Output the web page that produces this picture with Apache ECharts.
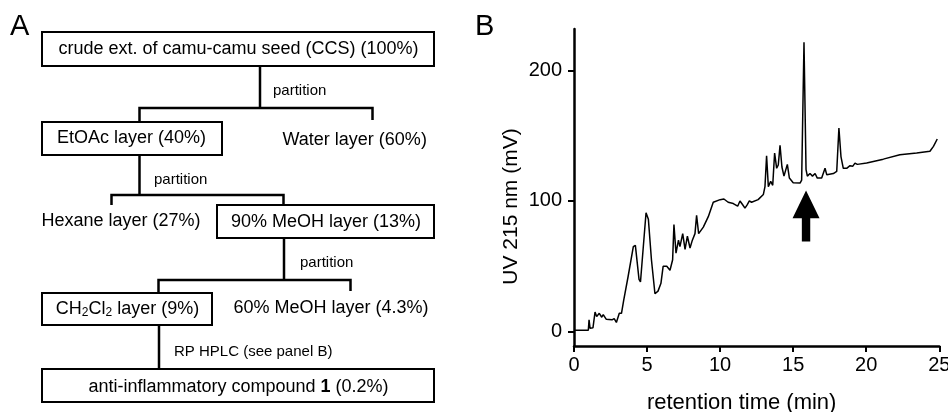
<!DOCTYPE html>
<html><head><meta charset="utf-8">
<script src="https://cdn.jsdelivr.net/npm/echarts@6/dist/echarts.min.js"></script>
<style>html,body{margin:0;padding:0;background:#fff}#c{width:948px;height:412px}</style>
</head><body><div id="c"></div>
<script>
// Panel B: HPLC chromatogram (retention time in min, UV 215 nm in mV)
const timeMin = [0,0.98,1.03,1.1,1.3,1.44,1.55,1.73,1.9,2.0,2.2,2.6,2.75,2.9,3.1,3.25,3.4,3.7,4.06,4.2,4.45,4.55,4.93,5.09,5.3,5.54,5.75,5.95,6.1,6.35,6.57,6.75,6.84,6.98,7.15,7.25,7.44,7.6,7.76,7.94,8.1,8.28,8.39,8.53,8.85,9.19,9.53,10.0,10.26,10.55,10.9,11.2,11.36,11.52,11.7,11.85,12.0,12.15,12.6,12.96,13.07,13.18,13.3,13.46,13.6,13.73,13.87,13.98,14.1,14.23,14.37,14.6,14.74,15.0,15.47,15.58,15.74,15.88,15.97,16.15,16.32,16.5,16.65,16.95,17.18,17.3,17.75,17.98,18.13,18.27,18.43,18.66,18.89,19.07,19.23,19.39,20.03,21.17,22.3,23.45,24.36,24.6,24.86];
const uv215 = [1,1,9,2.5,3,15,11.5,14,11,13,9.5,9,10,7,14,14,24,42,65,66,40,38,91,86,55,29,31,37,50,50,47,55,82,60,70,65,75,63,73,64,70,75,89,75,80,88,99,101,101.5,99,98,96,100,97.5,94.5,97,100,99,101,105,111,134.6,111,115,112,136.7,125,127.5,142.5,126,119,128,117.5,114,113.7,116,221.5,124,119,121,119,121,117.5,117.5,125,120,121,122.6,155.8,134,125,125,127,126.5,129,128,129,132,135.4,136.7,138,141.8,147.4];
const xTicks = [0,5,10,15,20,25];
const yTicks = [0,100,200];
const arrowAt = [15.88, 88.4];

// Panel A: fractionation scheme texts
const boxTexts = ['crude ext. of camu-camu seed (CCS) (100%)','EtOAc layer (40%)','90% MeOH layer (13%)','CH2Cl2 layer (9%)','anti-inflammatory compound 1 (0.2%)'];
const sideTexts = ['Water layer (60%)','Hexane layer (27%)','60% MeOH layer (4.3%)'];
const stepTexts = ['partition','partition','partition','RP HPLC (see panel B)'];

const FF = '"Liberation Sans", Arial, Helvetica, sans-serif';
const data = timeMin.map((t,i)=>[t,uv215[i]]);

const ctx = document.createElement('canvas').getContext('2d');
function tw(s,size,weight){ctx.font=(weight||'normal')+' '+size+'px '+FF;return ctx.measureText(s).width;}

function rect(x,y,w,h){return {type:'rect',shape:{x:x,y:y,width:w,height:h},style:{fill:'#fff',stroke:'#000',lineWidth:2}};}
function pl(pts){return {type:'polyline',shape:{points:pts},style:{stroke:'#000',lineWidth:2.5,fill:null}};}
function txt(s,x,y,size,align){return {type:'text',x:x,y:y,style:{text:s,font:'normal '+size+'px '+FF,fill:'#000',textAlign:align||'left',textVerticalAlign:'middle'}};}

const g = [];
g.push(txt('A',10,27,29));
g.push(txt('B',475,27,29));
// connectors
g.push(pl([[260,66],[260,108]]));
g.push(pl([[139.5,122],[139.5,108],[372.5,108],[372.5,120]]));
g.push(pl([[139.5,155],[139.5,195]]));
g.push(pl([[111.5,205],[111.5,195],[283.5,195],[283.5,205]]));
g.push(pl([[284,238],[284,280]]));
g.push(pl([[158.5,293],[158.5,280],[350.5,280],[350.5,291]]));
g.push(pl([[159,325],[159,369]]));
// boxes
g.push(rect(42,32,392,34));
g.push(rect(42,122,180,33));
g.push(rect(217,205,217,33));
g.push(rect(42,293,170,32));
g.push(rect(42,369,392,33));
// box texts
g.push(txt(boxTexts[0],238.5,49,18,'center'));
g.push(txt(boxTexts[1],131.5,138.5,18,'center'));
g.push(txt(boxTexts[2],326,222,18,'center'));
// CH2Cl2 with subscripts
(function(){
  const parts=[['CH',18,0],['2',12,4],['Cl',18,0],['2',12,4],[' layer (9%)',18,0]];
  let total=0; parts.forEach(p=>total+=tw(p[0],p[1]));
  let x=127.5-total/2;
  parts.forEach(p=>{g.push(txt(p[0],x,309+p[2],p[1],'left'));x+=tw(p[0],p[1]);});
})();
// compound 1 with bold numeral
(function(){
  const parts=[['anti-inflammatory compound ','normal'],['1','bold'],[' (0.2%)','normal']];
  let total=0; parts.forEach(p=>total+=tw(p[0],18,p[1]));
  let x=238.5-total/2;
  parts.forEach(p=>{g.push({type:'text',x:x,y:387.5,style:{text:p[0],font:p[1]+' 18px '+FF,fill:'#000',textAlign:'left',textVerticalAlign:'middle'}});x+=tw(p[0],18,p[1]);});
})();
// side texts
g.push(txt(sideTexts[0],282.5,140,18,'left'));
g.push(txt(sideTexts[1],41.5,221,18,'left'));
g.push(txt(sideTexts[2],233.5,308.5,18,'left'));
// step labels
g.push(txt(stepTexts[0],273,91,15,'left'));
g.push(txt(stepTexts[1],154,180,15,'left'));
g.push(txt(stepTexts[2],300,263,15,'left'));
g.push(txt(stepTexts[3],174,352,15,'left'));

const chart = echarts.init(document.getElementById('c'));
chart.setOption({
  animation:false,
  backgroundColor:'#fff',
  grid:{left:574,right:8.7,top:29,bottom:66,containLabel:false,outerBoundsMode:'none'},
  xAxis:{type:'value',min:0,max:25,interval:5,
    name:'retention time (min)',nameLocation:'middle',nameGap:46,
    nameTextStyle:{fontSize:22,color:'#000',fontFamily:FF,padding:[0,30,0,0]},
    axisLine:{show:true,onZero:false,lineStyle:{color:'#000',width:2.5}},
    axisTick:{show:true,length:6,lineStyle:{color:'#000',width:2}},
    axisLabel:{fontSize:20,color:'#000',fontFamily:FF,margin:9},
    splitLine:{show:false}},
  yAxis:{type:'value',min:-11,max:231.6,
    name:'UV 215 nm (mV)',nameLocation:'middle',nameGap:52,
    nameTextStyle:{fontSize:21,color:'#000',fontFamily:FF,padding:[0,38,0,0]},
    axisLine:{show:true,onZero:false,lineStyle:{color:'#000',width:2.5}},
    axisTick:{show:true,length:6,lineStyle:{color:'#000',width:2},customValues:yTicks},
    axisLabel:{fontSize:20,color:'#000',fontFamily:FF,margin:12,customValues:yTicks},
    splitLine:{show:false}},
  series:[{type:'line',data:data,showSymbol:false,symbol:'none',
    lineStyle:{color:'#000',width:1.5},
    markPoint:{silent:true,data:[{coord:arrowAt,
      symbol:'path://M13.35,0 L26.7,27.6 L17.5,27.6 L17.5,51 L9.2,51 L9.2,27.6 L0,27.6 Z',
      symbolSize:[27,51],itemStyle:{color:'#000'},label:{show:false}}]}}],
  graphic:g
});
</script></body></html>
